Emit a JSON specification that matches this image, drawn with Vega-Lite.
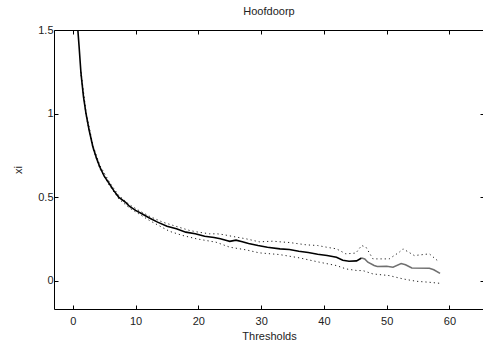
{
  "$schema": "https://vega.github.io/schema/vega-lite/v6.json",
  "width": 430,
  "height": 279,
  "autosize": {"type": "none"},
  "padding": {"left": 54, "top": 30, "right": 0, "bottom": 42},
  "background": "white",
  "config": {
    "view": {"stroke": null},
    "font": "Liberation Sans",
    "axis": {
      "grid": false,
      "domainColor": "#000",
      "tickColor": "#000",
      "labelColor": "#222",
      "titleColor": "#222",
      "labelFont": "Liberation Sans",
      "titleFont": "Liberation Sans",
      "labelFontSize": 11,
      "titleFontSize": 11,
      "titleFontWeight": "normal",
      "tickSize": -4,
      "domainWidth": 1,
      "tickWidth": 1
    }
  },
  "title": {
    "text": "Hoofdoorp",
    "fontSize": 11,
    "fontWeight": "normal",
    "font": "Liberation Sans",
    "color": "#222",
    "anchor": "middle",
    "offset": 7
  },
  "data": {
    "values": [
      {"x": 0.8, "y": 1.5, "s": "a"},
      {"x": 1.0, "y": 1.4, "s": "a"},
      {"x": 1.3, "y": 1.24, "s": "a"},
      {"x": 1.7, "y": 1.1, "s": "a"},
      {"x": 2.1, "y": 1.0, "s": "a"},
      {"x": 2.6, "y": 0.9, "s": "a"},
      {"x": 3.2, "y": 0.8, "s": "a"},
      {"x": 3.8, "y": 0.73, "s": "a"},
      {"x": 4.3, "y": 0.68, "s": "a"},
      {"x": 5.0, "y": 0.625, "s": "a"},
      {"x": 5.9, "y": 0.575, "s": "a"},
      {"x": 6.5, "y": 0.54, "s": "a"},
      {"x": 7.3, "y": 0.5, "s": "a"},
      {"x": 8.5, "y": 0.465, "s": "a"},
      {"x": 9.0, "y": 0.445, "s": "a"},
      {"x": 10.0, "y": 0.42, "s": "a"},
      {"x": 11.0, "y": 0.4, "s": "a"},
      {"x": 12.2, "y": 0.375, "s": "a"},
      {"x": 13.5, "y": 0.35, "s": "a"},
      {"x": 15.0, "y": 0.325, "s": "a"},
      {"x": 16.5, "y": 0.31, "s": "a"},
      {"x": 18.0, "y": 0.29, "s": "a"},
      {"x": 19.5, "y": 0.28, "s": "a"},
      {"x": 21.0, "y": 0.265, "s": "a"},
      {"x": 22.5, "y": 0.258, "s": "a"},
      {"x": 23.5, "y": 0.25, "s": "a"},
      {"x": 24.5, "y": 0.24, "s": "a"},
      {"x": 25.0, "y": 0.235, "s": "a"},
      {"x": 26.0, "y": 0.242, "s": "a"},
      {"x": 27.0, "y": 0.232, "s": "a"},
      {"x": 28.0, "y": 0.222, "s": "a"},
      {"x": 29.5, "y": 0.21, "s": "a"},
      {"x": 31.0, "y": 0.2, "s": "a"},
      {"x": 33.0, "y": 0.19, "s": "a"},
      {"x": 34.5, "y": 0.186, "s": "a"},
      {"x": 36.0, "y": 0.176, "s": "a"},
      {"x": 37.5, "y": 0.168, "s": "a"},
      {"x": 39.0, "y": 0.158, "s": "a"},
      {"x": 40.5, "y": 0.15, "s": "a"},
      {"x": 42.0, "y": 0.14, "s": "a"},
      {"x": 43.0, "y": 0.122, "s": "a"},
      {"x": 44.0, "y": 0.116, "s": "a"},
      {"x": 45.2, "y": 0.118, "s": "a"},
      {"x": 46.0, "y": 0.135, "s": "a"},
      {"x": 46.0, "y": 0.135, "s": "b"},
      {"x": 46.5, "y": 0.13, "s": "b"},
      {"x": 47.0, "y": 0.11, "s": "b"},
      {"x": 48.0, "y": 0.09, "s": "b"},
      {"x": 48.5, "y": 0.084, "s": "b"},
      {"x": 50.0, "y": 0.086, "s": "b"},
      {"x": 51.0, "y": 0.08, "s": "b"},
      {"x": 52.3, "y": 0.102, "s": "b"},
      {"x": 53.0, "y": 0.095, "s": "b"},
      {"x": 54.0, "y": 0.075, "s": "b"},
      {"x": 56.8, "y": 0.074, "s": "b"},
      {"x": 57.5, "y": 0.065, "s": "b"},
      {"x": 58.5, "y": 0.043, "s": "b"},
      {"x": 1.3, "y": 1.25, "s": "up"},
      {"x": 2.1, "y": 1.01, "s": "up"},
      {"x": 3.2, "y": 0.81, "s": "up"},
      {"x": 4.3, "y": 0.69, "s": "up"},
      {"x": 5.9, "y": 0.585, "s": "up"},
      {"x": 7.3, "y": 0.51, "s": "up"},
      {"x": 9.0, "y": 0.455, "s": "up"},
      {"x": 10.5, "y": 0.42, "s": "up"},
      {"x": 12.2, "y": 0.385, "s": "up"},
      {"x": 14.3, "y": 0.35, "s": "up"},
      {"x": 16.0, "y": 0.33, "s": "up"},
      {"x": 18.6, "y": 0.3, "s": "up"},
      {"x": 20.0, "y": 0.29, "s": "up"},
      {"x": 21.8, "y": 0.28, "s": "up"},
      {"x": 23.0, "y": 0.28, "s": "up"},
      {"x": 24.0, "y": 0.275, "s": "up"},
      {"x": 25.5, "y": 0.264, "s": "up"},
      {"x": 27.6, "y": 0.25, "s": "up"},
      {"x": 29.7, "y": 0.232, "s": "up"},
      {"x": 31.9, "y": 0.236, "s": "up"},
      {"x": 33.0, "y": 0.232, "s": "up"},
      {"x": 34.5, "y": 0.228, "s": "up"},
      {"x": 37.2, "y": 0.214, "s": "up"},
      {"x": 39.0, "y": 0.21, "s": "up"},
      {"x": 40.4, "y": 0.2, "s": "up"},
      {"x": 42.0, "y": 0.19, "s": "up"},
      {"x": 43.5, "y": 0.16, "s": "up"},
      {"x": 45.1, "y": 0.165, "s": "up"},
      {"x": 46.0, "y": 0.21, "s": "up"},
      {"x": 46.7, "y": 0.2, "s": "up"},
      {"x": 47.8, "y": 0.13, "s": "up"},
      {"x": 50.4, "y": 0.13, "s": "up"},
      {"x": 52.0, "y": 0.17, "s": "up"},
      {"x": 52.6, "y": 0.19, "s": "up"},
      {"x": 53.5, "y": 0.17, "s": "up"},
      {"x": 54.4, "y": 0.15, "s": "up"},
      {"x": 56.8, "y": 0.16, "s": "up"},
      {"x": 58.4, "y": 0.11, "s": "up"},
      {"x": 1.3, "y": 1.23, "s": "lo"},
      {"x": 2.1, "y": 0.99, "s": "lo"},
      {"x": 3.2, "y": 0.79, "s": "lo"},
      {"x": 4.3, "y": 0.67, "s": "lo"},
      {"x": 5.9, "y": 0.565, "s": "lo"},
      {"x": 7.3, "y": 0.49, "s": "lo"},
      {"x": 9.0, "y": 0.435, "s": "lo"},
      {"x": 10.5, "y": 0.4, "s": "lo"},
      {"x": 12.2, "y": 0.36, "s": "lo"},
      {"x": 15.4, "y": 0.295, "s": "lo"},
      {"x": 17.5, "y": 0.27, "s": "lo"},
      {"x": 19.7, "y": 0.25, "s": "lo"},
      {"x": 22.8, "y": 0.23, "s": "lo"},
      {"x": 25.0, "y": 0.2, "s": "lo"},
      {"x": 27.6, "y": 0.184, "s": "lo"},
      {"x": 29.7, "y": 0.166, "s": "lo"},
      {"x": 32.9, "y": 0.156, "s": "lo"},
      {"x": 36.1, "y": 0.136, "s": "lo"},
      {"x": 39.3, "y": 0.11, "s": "lo"},
      {"x": 42.0, "y": 0.09, "s": "lo"},
      {"x": 43.5, "y": 0.07, "s": "lo"},
      {"x": 45.3, "y": 0.06, "s": "lo"},
      {"x": 46.2, "y": 0.06, "s": "lo"},
      {"x": 47.8, "y": 0.04, "s": "lo"},
      {"x": 50.4, "y": 0.03, "s": "lo"},
      {"x": 52.6, "y": 0.01, "s": "lo"},
      {"x": 54.7, "y": -0.004, "s": "lo"},
      {"x": 56.8, "y": -0.01, "s": "lo"},
      {"x": 58.4, "y": -0.016, "s": "lo"}
    ]
  },
  "resolve": {"axis": {"x": "independent", "y": "independent"}},
  "layer": [
    {
      "transform": [{"filter": "datum.s == 'up' || datum.s == 'lo'"}],
      "mark": {"type": "line", "strokeWidth": 1, "strokeDash": [1.2, 3], "clip": true, "color": "#222"},
      "encoding": {
        "x": {"field": "x", "type": "quantitative", "scale": {"domain": [-3, 65.5], "nice": false, "zero": false},
              "axis": {"orient": "bottom", "values": [0, 10, 20, 30, 40, 50, 60], "title": "Thresholds", "labelPadding": 10, "titlePadding": 4}},
        "y": {"field": "y", "type": "quantitative", "scale": {"domain": [-0.17, 1.5], "nice": false, "zero": false},
              "axis": {"orient": "left", "values": [0, 0.5, 1, 1.5], "format": "~g", "title": "xi", "labelPadding": 5, "titlePadding": 14}},
        "detail": {"field": "s"}
      }
    },
    {
      "transform": [{"filter": "datum.s == 'a' || datum.s == 'b'"}],
      "mark": {"type": "line", "strokeWidth": 1.6, "clip": true},
      "encoding": {
        "x": {"field": "x", "type": "quantitative", "axis": {"orient": "top", "values": [0, 10, 20, 30, 40, 50, 60], "labels": false, "title": null}},
        "y": {"field": "y", "type": "quantitative", "axis": {"orient": "right", "values": [0, 0.5, 1, 1.5], "labels": false, "title": null}},
        "color": {"field": "s", "type": "nominal", "scale": {"domain": ["a", "b"], "range": ["#000000", "#707070"]}, "legend": null}
      }
    }
  ]
}
